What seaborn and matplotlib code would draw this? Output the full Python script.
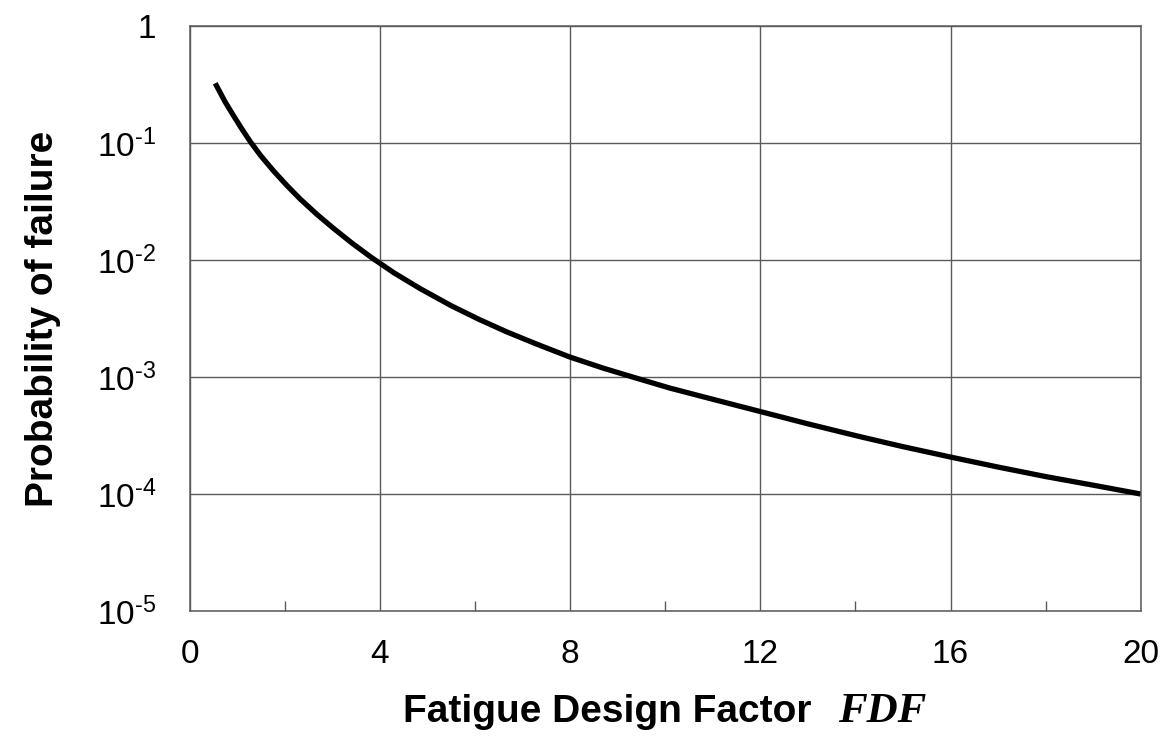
import matplotlib
matplotlib.use("Agg")
import matplotlib.pyplot as plt
from matplotlib.ticker import FixedLocator, NullLocator
import pandas as pd
import seaborn as sns

# Probability of failure versus fatigue design factor
fdf = [0.54, 0.75, 0.93, 1.10, 1.28, 1.50, 1.77, 2.05, 2.33, 2.68, 3.03,
       3.43, 3.83, 4.30, 4.85, 5.50, 6.10, 6.67, 7.30, 8.0, 8.7, 9.48,
       10.1, 10.81, 11.4, 12.0, 13.0, 14.1, 15.0, 16.0, 17.0, 18.0, 19.0,
       20.0]
p_failure = [0.3236, 0.2239, 0.1698, 0.1318, 0.1023, 0.0776, 0.0575,
             0.0432, 0.0331, 0.0245, 0.0186, 0.0138, 0.01047, 0.00776,
             0.00569, 0.00407, 0.00309, 0.00243, 0.00191, 0.00148,
             0.00119, 0.000955, 0.000804, 0.000676, 0.000586, 0.000507,
             0.000398, 0.000309, 0.000254, 0.000207, 0.000170, 0.000141,
             0.000119, 0.0001]

x_ticks = [0, 4, 8, 12, 16, 20]
x_minor_ticks = [2, 6, 10, 14, 18]
y_ticks = [1e-5, 1e-4, 1e-3, 1e-2, 1e-1, 1]
y_tick_labels = [r"10$^{\text{-}5}$", r"10$^{\text{-}4}$", r"10$^{\text{-}3}$",
                 r"10$^{\text{-}2}$", r"10$^{\text{-}1}$", "1"]

sns.set_theme(style="white")
plt.rcParams["font.family"] = ["Liberation Sans", "DejaVu Sans"]
plt.rcParams["mathtext.fontset"] = "custom"
plt.rcParams["mathtext.rm"] = "Liberation Sans"
plt.rcParams["mathtext.it"] = "Liberation Sans:italic"
plt.rcParams["mathtext.bf"] = "Liberation Sans:bold"

grid_color = "#5a5a5a"

df = pd.DataFrame({"FDF": fdf, "Pf": p_failure})

fig = plt.figure(figsize=(11.7, 7.42), dpi=100)
ax = fig.add_axes([0.162, 0.1765, 0.813, 0.7885])

sns.lineplot(data=df, x="FDF", y="Pf", ax=ax, color="black", linewidth=3.8,
             solid_capstyle="butt", solid_joinstyle="round")

ax.set_yscale("log")
ax.set_xlim(0, 20)
ax.set_ylim(1e-5, 1)

ax.xaxis.set_major_locator(FixedLocator(x_ticks))
ax.xaxis.set_minor_locator(FixedLocator(x_minor_ticks))
ax.yaxis.set_major_locator(FixedLocator(y_ticks))
ax.yaxis.set_minor_locator(NullLocator())
ax.set_xticklabels([str(t) for t in x_ticks])
ax.set_yticklabels(y_tick_labels)

ax.tick_params(axis="x", which="major", length=0, pad=20, labelsize=24,
               labelcolor="black")
ax.tick_params(axis="x", which="minor", direction="in", length=7, width=1.0,
               color=grid_color, bottom=True)
ax.tick_params(axis="y", which="major", length=0, pad=24, labelsize=24,
               labelcolor="black")

ax.grid(True, which="major", color=grid_color, linewidth=1.0)
ax.set_axisbelow(True)
for spine in ax.spines.values():
    spine.set_visible(True)
    spine.set_color(grid_color)
    spine.set_linewidth(1.1)

ax.set_ylabel("Probability of failure", fontsize=28, fontweight="bold",
              color="black")
ax.yaxis.set_label_coords(-0.135, 0.5)

ax.set_xlabel("Fatigue Design Factor", fontsize=28, fontweight="bold",
              color="black")
ax.xaxis.label.set_verticalalignment("baseline")
ax.xaxis.label.set_horizontalalignment("center")
ax.xaxis.set_label_coords(0.4395, -0.19)
ax.text(0.682, -0.19, "FDF", transform=ax.transAxes, fontsize=31,
        fontfamily="Liberation Serif", fontstyle="italic", fontweight="bold",
        ha="left", va="baseline", color="black")

fig.savefig("out.png", dpi=100, facecolor="white")
